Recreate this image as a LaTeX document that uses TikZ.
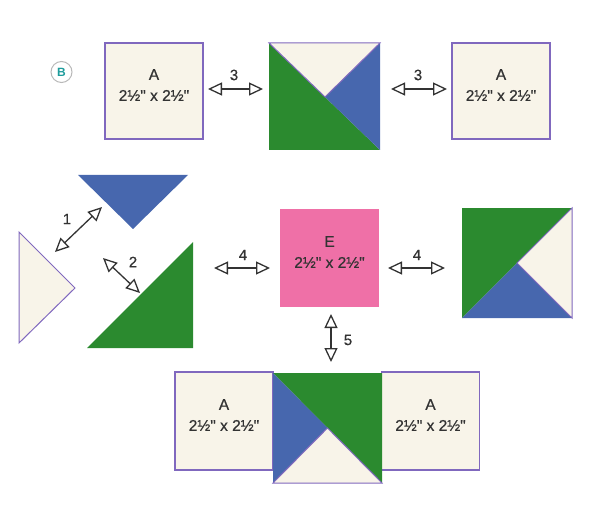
\documentclass[tikz,border=0pt]{standalone}
\usepackage{fontspec}
\setmainfont{Liberation Sans}
\newfontfamily\piecefont{Liberation Sans}[FakeBold=0.6]
\usetikzlibrary{arrows.meta}
\definecolor{cream}{HTML}{F8F4E9}
\definecolor{edge}{HTML}{8068BE}
\definecolor{leaf}{HTML}{2B8A2F}
\definecolor{sky}{HTML}{4767AE}
\definecolor{rose}{HTML}{EF70A7}
\definecolor{ink}{HTML}{333333}
\definecolor{tealmark}{HTML}{1E9C9C}

\begin{document}
\begin{tikzpicture}[x=1pt,y=-1pt,
  patch/.style={draw=edge, line width=1.2pt, fill=cream, inner sep=0pt,
    minimum width=98pt, minimum height=96pt, align=center, text=ink,
    font=\piecefont\fontsize{15.5}{21}\selectfont},
  joinarrow/.style={{Triangle[open,length=14pt,width=13pt]}-{Triangle[open,length=14pt,width=13pt]},
    line width=1.3pt, draw=ink},
  steplabel/.style={text=ink, inner sep=0pt, font=\piecefont\fontsize{15}{17}\selectfont}]
\useasboundingbox (0,0) rectangle (600,508);

% step marker
\node[circle, draw=gray!55, line width=1pt, minimum size=21pt, inner sep=0pt,
  text=tealmark, font=\bfseries\fontsize{12}{12}\selectfont] (mark) at (61.5,72) {B};

% plain squares
\node[patch] (topA) at (154,91) {A\\2½" x 2½"\rule[-12pt]{0pt}{0pt}};
\node[patch] (rightA) at (501,91) {A\\2½" x 2½"\rule[-12pt]{0pt}{0pt}};
\node[patch, draw=rose, fill=rose, minimum width=97pt] (E) at (329.5,258) {E\\2½" x 2½"\rule[-12pt]{0pt}{0pt}};
\node[patch, minimum height=98pt] (lowA) at (224,421) {A\\2½" x 2½"\rule[-12pt]{0pt}{0pt}};
\node[patch, minimum height=98pt] (lowB) at (430.5,421) {A\\2½" x 2½"\rule[-12pt]{0pt}{0pt}};

% pieced square, top row
\fill[leaf] (269,43) -- (325,97) -- (380,150) -- (269,150) -- cycle;
\fill[sky] (380,43) -- (380,150) -- (325,97) -- cycle;
\filldraw[fill=cream, draw=edge, line width=1pt] (269,43) -- (380,43) -- (325,97) -- cycle;

% loose pieces
\fill[sky] (78,175) -- (188,175) -- (133,229) -- cycle;
\filldraw[fill=cream, draw=edge, line width=1pt] (19,232) -- (75,288) -- (19,343) -- cycle;
\fill[leaf] (193,242) -- (193,348) -- (87,348) -- cycle;

% pieced square, middle row
\fill[leaf] (462,208) -- (572,208) -- (517,263) -- (462,318) -- cycle;
\fill[sky] (462,318) -- (517,263) -- (572,318) -- cycle;
\filldraw[fill=cream, draw=edge, line width=1pt] (572,208) -- (572,318) -- (517,263) -- cycle;

% pieced square, bottom row
\fill[leaf] (273,373) -- (382,373) -- (382,483) -- (327.5,428) -- cycle;
\fill[sky] (273,373) -- (327.5,428) -- (273,483) -- cycle;
\filldraw[fill=cream, draw=edge, line width=1pt] (273,483) -- (327.5,428) -- (382,483) -- cycle;

% arrow ends
\coordinate (a3l) at (208,89);  \coordinate (b3l) at (263,89);
\coordinate (a3r) at (391,89);  \coordinate (b3r) at (447,89);
\coordinate (a1) at (55,252);   \coordinate (b1) at (102,207);
\coordinate (a2) at (103,258);  \coordinate (b2) at (140,293);
\coordinate (a4l) at (214,268); \coordinate (b4l) at (270,268);
\coordinate (a4r) at (388,268); \coordinate (b4r) at (445,268);
\coordinate (a5) at (331,314);  \coordinate (b5) at (331,362);

\draw[joinarrow] (a3l) -- (b3l);
\draw[joinarrow] (a3r) -- (b3r);
\draw[joinarrow] (a1) -- (b1);
\draw[joinarrow] (a2) -- (b2);
\draw[joinarrow] (a4l) -- (b4l);
\draw[joinarrow] (a4r) -- (b4r);
\draw[joinarrow] (a5) -- (b5);

\node[steplabel] (n3l) at (234,75) {3};
\node[steplabel] (n3r) at (418,75) {3};
\node[steplabel] (n1) at (67,219) {1};
\node[steplabel] (n2) at (133,262) {2};
\node[steplabel] (n4l) at (243,255) {4};
\node[steplabel] (n4r) at (417,255) {4};
\node[steplabel] (n5) at (348,340) {5};
\end{tikzpicture}
\end{document}
